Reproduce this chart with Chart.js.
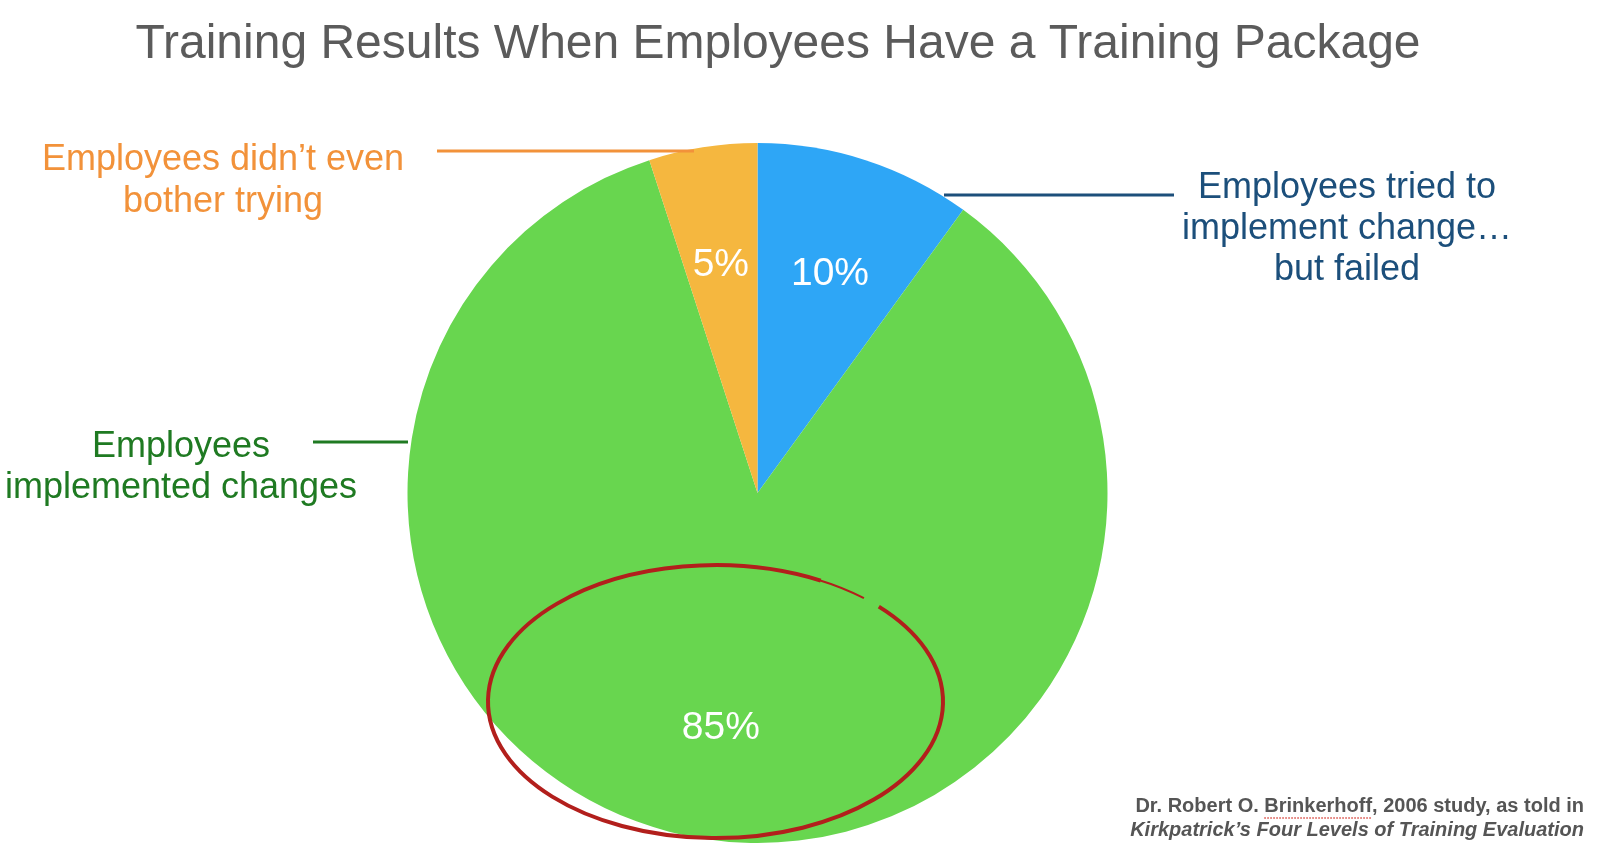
<!DOCTYPE html>
<html>
<head>
<meta charset="utf-8">
<script src="https://cdn.jsdelivr.net/npm/chart.js@4/dist/chart.umd.min.js"></script>
<style>
  html, body { margin: 0; padding: 0; background: #fff; }
  #wrap { position: relative; width: 1600px; height: 850px; }
</style>
</head>
<body>
<div id="wrap"><canvas id="myChart" width="1600" height="850"></canvas></div>
<script>
const chartTitle = "Training Results When Employees Have a Training Package";
const categories = ["Employees tried to implement change… but failed", "Employees implemented changes", "Employees didn’t even bother trying"];
const shares = [10, 85, 5];
const sliceColors = ["#2ea6f6", "#68d64f", "#f5b73f"];
// callout texts, split the way the picture breaks them
const calloutLines = [
    ["Employees tried to", "implement change…", "but failed"],
    ["Employees", "implemented changes"],
    ["Employees didn’t even", "bother trying"]
];
const calloutColors = ["#1c4f7b", "#1f7a22", "#f2923a"];
const sourceLines = ["Dr. Robert O. Brinkerhoff, 2006 study, as told in", "Kirkpatrick’s Four Levels of Training Evaluation"];

const FONT = "'Liberation Sans', Arial, sans-serif";

// where the callout text + leader lines sit on the page
const callouts = [
    {x: 1347, y: 188, lh: 41, line: [944, 1174, 195]},
    {x: 181, y: 447, lh: 41, line: [313, 408, 442]},
    {x: 223, y: 160, lh: 42, line: [437, 694, 151]}
];

const annotations = {
    id: "annotations",
    afterDatasetsDraw(chart) {
        const ctx = chart.ctx;
        const meta = chart.getDatasetMeta(0);
        ctx.save();
        // percent labels inside the slices
        ctx.fillStyle = "#ffffff";
        ctx.font = "39px " + FONT;
        ctx.textAlign = "center";
        ctx.textBaseline = "middle";
        meta.data.forEach(function (arc, i) {
            const p = arc.getProps(["x", "y", "startAngle", "endAngle", "outerRadius"], true);
            const mid = (p.startAngle + p.endAngle) / 2;
            const r = p.outerRadius * 0.67;
            ctx.fillText(shares[i] + "%", p.x + Math.cos(mid) * r, p.y + Math.sin(mid) * r + 4);
        });

        // red ring round the big slice (hand drawn, small gap upper right)
        const big = meta.data[1].getProps(["x", "y", "outerRadius"], true);
        const ex = big.x - 0.12 * big.outerRadius, ey = big.y + 0.596 * big.outerRadius;
        const rx = 0.65 * big.outerRadius, ry = 0.39 * big.outerRadius;
        ctx.strokeStyle = "#b21f1c";
        ctx.lineWidth = 4;
        ctx.beginPath();
        ctx.ellipse(ex, ey, rx, ry, 0, -0.77, 2 * Math.PI - 1.09);
        ctx.stroke();
        ctx.lineWidth = 2;
        ctx.beginPath();
        ctx.ellipse(ex, ey, rx, ry, 0, -1.1, -0.86);
        ctx.stroke();

        // title
        ctx.fillStyle = "#5b5b5b";
        ctx.font = "48px " + FONT;
        ctx.fillText(chartTitle, 778, 45);

        // callouts
        ctx.font = "36px " + FONT;
        callouts.forEach(function (c, i) {
            ctx.fillStyle = calloutColors[i];
            calloutLines[i].forEach(function (t, k) {
                ctx.fillText(t, c.x, c.y + k * c.lh);
            });
            ctx.strokeStyle = calloutColors[i];
            ctx.lineWidth = 3;
            ctx.beginPath();
            ctx.moveTo(c.line[0], c.line[2]);
            ctx.lineTo(c.line[1], c.line[2]);
            ctx.stroke();
        });

        // source note
        ctx.fillStyle = "#555555";
        ctx.textAlign = "right";
        ctx.font = "bold 20px " + FONT;
        ctx.fillText(sourceLines[0], 1584, 806);
        // spell-check squiggle under the surname
        const full = ctx.measureText(sourceLines[0]).width;
        const pre = ctx.measureText("Dr. Robert O. ").width;
        const word = ctx.measureText("Brinkerhoff").width;
        const x0 = 1584 - full + pre;
        ctx.strokeStyle = "#d8463f";
        ctx.lineWidth = 1.5;
        ctx.setLineDash([1.5, 1.5]);
        ctx.beginPath();
        ctx.moveTo(x0, 818);
        ctx.lineTo(x0 + word, 818);
        ctx.stroke();
        ctx.setLineDash([]);
        ctx.font = "italic bold 20px " + FONT;
        ctx.fillText(sourceLines[1], 1584, 830);
        ctx.restore();
    }
};

new Chart("myChart", {
    type: "pie",
    data: {
        labels: categories,
        datasets: [{
            data: shares,
            backgroundColor: sliceColors,
            borderWidth: 0
        }]
    },
    options: {
        responsive: false,
        animation: false,
        layout: {
            padding: {top: 143, bottom: 7, left: 407, right: 492}
        },
        plugins: {
            legend: {display: false},
            tooltip: {enabled: false},
            title: {display: false}
        }
    },
    plugins: [annotations]
});
</script>
</body>
</html>
